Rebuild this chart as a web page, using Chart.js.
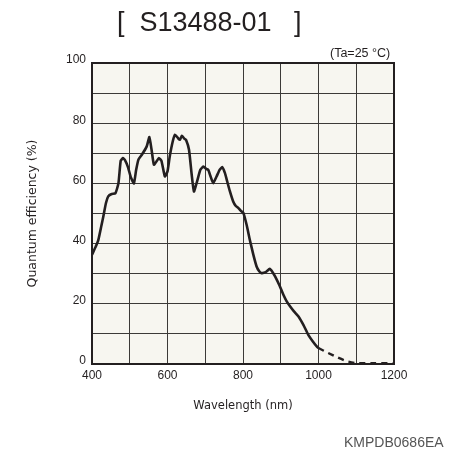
<!DOCTYPE html>
<html>
<head>
<meta charset="utf-8">
<script src="https://cdn.jsdelivr.net/npm/chart.js@4/dist/chart.umd.min.js"></script>
<style>
  html, body { margin: 0; padding: 0; background: #ffffff; }
  #wrap { position: relative; width: 451px; height: 454px; overflow: hidden; }
  #c { position: absolute; left: 0; top: 0; }
  .txt { position: absolute; white-space: pre; line-height: 1; color: #231f20; }
  #title { left: 117px; top: 7px; font: 27px "Liberation Sans", Arial, sans-serif; }
  #cond { left: 330px; top: 46px; font: 12.5px "Liberation Sans", Arial, sans-serif; }
  #code { left: 344px; top: 434px; font: 14px "Liberation Sans", Arial, sans-serif; color: #555555; }
</style>
</head>
<body>
<div id="wrap">
  <canvas id="c" width="451" height="454"></canvas>
  <div id="title" class="txt">[  S13488-01   ]</div>
  <div id="cond" class="txt">(Ta=25 °C)</div>
  <div id="code" class="txt">KMPDB0686EA</div>
</div>
<script>
// Measured curve (solid part)
const wavelengthSolid = [400,410,417,425,430,437,443,452,462,470,476,482,487,495,503,511,517,523,532,545,552,558,564,572,577,584,593,600,606,614,620,628,633,638,645,649,657,664,670,678,687,695,703,708,715,721,730,738,745,752,757,765,774,781,788,795,801,810,818,827,836,843,849,860,871,878,885,897,907,915,925,935,947,960,973,985,997,1000];
const qeSolid = [36.3,39,41.3,46,49,53.5,55.7,56.5,56.7,60,67.5,68.4,67.8,65.5,62,60,64.5,67.9,69.5,72.3,75.4,71,66.2,67.5,68.4,67.5,62.3,64,69,74,76.2,75,74.5,75.8,74.8,74.5,71.2,63,57.3,60.5,64.5,65.6,64.8,64.5,62,60.1,62.3,64.5,65.4,63.5,61.2,57.5,54,52.5,51.8,50.8,50.2,46,41.3,36.5,32.4,30.8,30.2,30.5,31.6,30.6,29.1,26,23,21,19.1,17.5,15.8,13,9.7,7.5,5.6,5.3];
// Extrapolated (dashed) part
const wavelengthDashed = [1000,1025,1050,1075,1100,1150,1200];
const qeDashed = [5.3,3.7,2.2,0.9,0.3,0.3,0.3];
// Tick labels
const xTickLabels = [400,600,800,1000,1200];
const yTickLabels = [0,20,40,60,80,100];

const toPts = (xs, ys) => xs.map((x, i) => ({x: x, y: ys[i]}));

const plotDeco = {
  id: 'plotDeco',
  beforeDraw(chart) {
    const {ctx, chartArea: a} = chart;
    ctx.save();
    ctx.fillStyle = '#f7f6f0';
    ctx.fillRect(a.left, a.top, a.right - a.left, a.bottom - a.top);
    ctx.restore();
  },
  afterDraw(chart) {
    const {ctx, chartArea: a} = chart;
    ctx.save();
    ctx.strokeStyle = '#231f20';
    ctx.lineWidth = 2;
    ctx.strokeRect(a.left, a.top, a.right - a.left, a.bottom - a.top);
    ctx.restore();
  }
};

new Chart(document.getElementById('c'), {
  type: 'line',
  data: {
    datasets: [
      {
        data: toPts(wavelengthSolid, qeSolid),
        borderColor: '#231f20',
        borderWidth: 2.6,
        pointRadius: 0,
        tension: 0.15,
        fill: false
      },
      {
        data: toPts(wavelengthDashed, qeDashed),
        borderColor: '#231f20',
        borderWidth: 2.4,
        borderDash: [6, 5],
        pointRadius: 0,
        tension: 0.2,
        fill: false
      }
    ]
  },
  plugins: [plotDeco],
  options: {
    responsive: false,
    animation: false,
    devicePixelRatio: 1,
    layout: { padding: { top: 63, right: 57, bottom: 30, left: 0 } },
    plugins: { legend: { display: false }, tooltip: { enabled: false }, title: { display: false } },
    scales: {
      x: {
        type: 'linear',
        min: 400, max: 1200,
        afterFit(s) { s.height = 60; },
        border: { display: false },
        grid: { color: '#3c3a38', lineWidth: 1, drawTicks: false },
        ticks: {
          stepSize: 100,
          padding: 4,
          color: '#231f20',
          maxRotation: 0,
          autoSkip: false,
          font: { family: '"Liberation Sans", Arial, sans-serif', size: 12 },
          callback: (v) => xTickLabels.includes(v) ? String(v) : ''
        },
        title: {
          display: true,
          text: 'Wavelength (nm)',
          color: '#231f20',
          font: { family: '"DejaVu Sans", Verdana, sans-serif', size: 11.5 },
          padding: { top: 0, bottom: 11 }
        }
      },
      y: {
        min: 0, max: 100,
        afterFit(s) { s.width = 92; },
        border: { display: false },
        grid: { color: '#3c3a38', lineWidth: 1, drawTicks: false },
        ticks: {
          stepSize: 10,
          padding: 6,
          labelOffset: -3,
          color: '#231f20',
          autoSkip: false,
          font: { family: '"Liberation Sans", Arial, sans-serif', size: 12 },
          callback: (v) => yTickLabels.includes(v) ? String(v) : ''
        },
        title: {
          display: true,
          text: 'Quantum efficiency (%)',
          color: '#231f20',
          font: { family: '"DejaVu Sans", Verdana, sans-serif', size: 12.5 },
          padding: { top: 25, bottom: 0 }
        }
      }
    }
  }
});
</script>
</body>
</html>
